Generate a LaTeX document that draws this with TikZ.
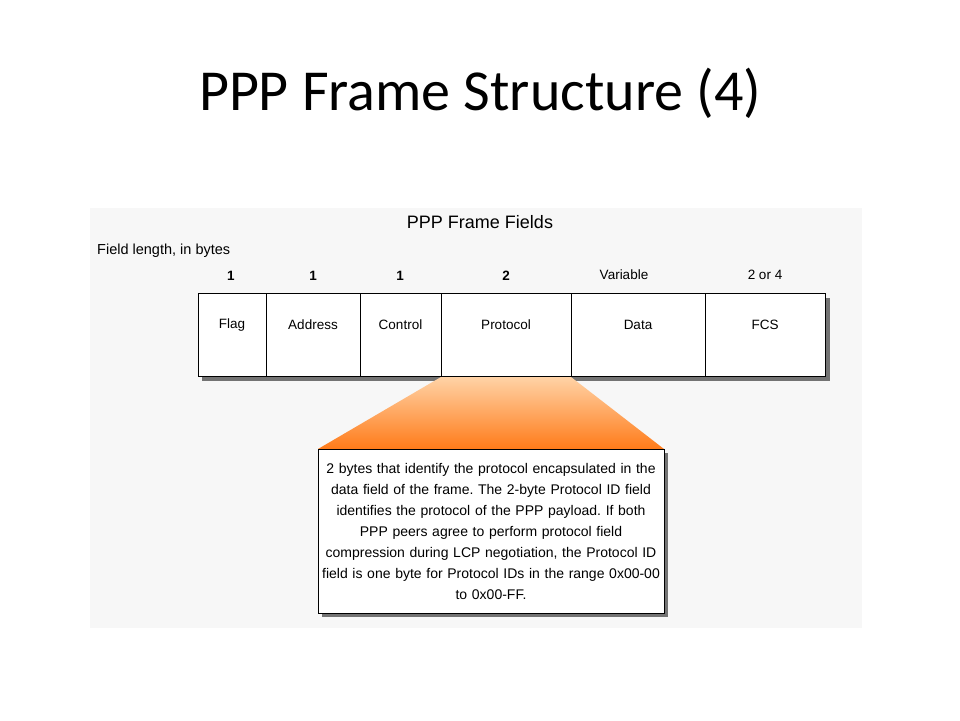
\documentclass[tikz,border=0pt]{standalone}
\usepackage{fontspec}
\setmainfont{Liberation Sans}
\newfontfamily\titlefont{Carlito}
\begin{document}
\frenchspacing
\begin{tikzpicture}[x=1pt,y=-1pt,
  fld/.style={draw=black,line width=0.9pt,fill=white,minimum height=83pt,anchor=north west,inner sep=0pt},
  lab/.style={font=\fontsize{13.5}{15}\selectfont},
  num/.style={font=\fontsize{13.5}{15}\selectfont\bfseries},
  numl/.style={font=\fontsize{13.5}{15}\selectfont}]
\useasboundingbox (0,0) rectangle (960,720);
\fill[white] (0,0) rectangle (960,720);
\node[font=\titlefont\fontsize{58}{64}\selectfont] (title) at (480,93) {PPP Frame Structure (4)};
\fill[black!3] (90,208) rectangle (862,628);
\node[font=\fontsize{18}{20}\selectfont] (ft) at (480,222) {PPP Frame Fields};
\node[anchor=west,font=\fontsize{14.5}{16}\selectfont,inner sep=0pt] (fl) at (97,251) {Field length, in bytes};
% shadow
\fill[black!55] (202,298) rectangle (830,381);
\foreach \n/\a/\b/\t in {f/198/266/Flag,a/266/360/Address,c/360/441/Control,p/441/571/Protocol,d/571/705/Data,s/705/825/FCS}{
  \node[fld,minimum width={\b-\a}] (\n) at (\a,293) {};
  \node[lab] at ({(\a+\b)/2},325) {\t};
}
\node[num] at (231,276) {1};
\node[num] at (313,276) {1};
\node[num] at (400,276) {1};
\node[num] at (506,276) {2};
\node[numl] at (624,275) {Variable};
\node[numl] at (765,275) {2 or 4};
\shade[top color=orange!35,bottom color=orange!85!red!90] (441,377) -- (571,377) -- (664,449) -- (318,449) -- cycle;
\fill[black!55] (322,453) rectangle (668,617);
\node[draw=black,line width=0.9pt,fill=white,anchor=north west,minimum width=346pt,minimum height=164pt] (box) at (318,449) {};
\node[align=center,font=\fontsize{14}{21}\selectfont,text width=380pt,inner sep=0pt] (desc) at (491,531) {2 bytes that identify the protocol encapsulated in the\\data field of the frame. The 2-byte Protocol ID field\\identifies the protocol of the PPP payload. If both\\PPP peers agree to perform protocol field\\compression during LCP negotiation, the Protocol ID\\field is one byte for Protocol IDs in the range 0x00-00\\to 0x00-FF.};
\end{tikzpicture}
\end{document}
